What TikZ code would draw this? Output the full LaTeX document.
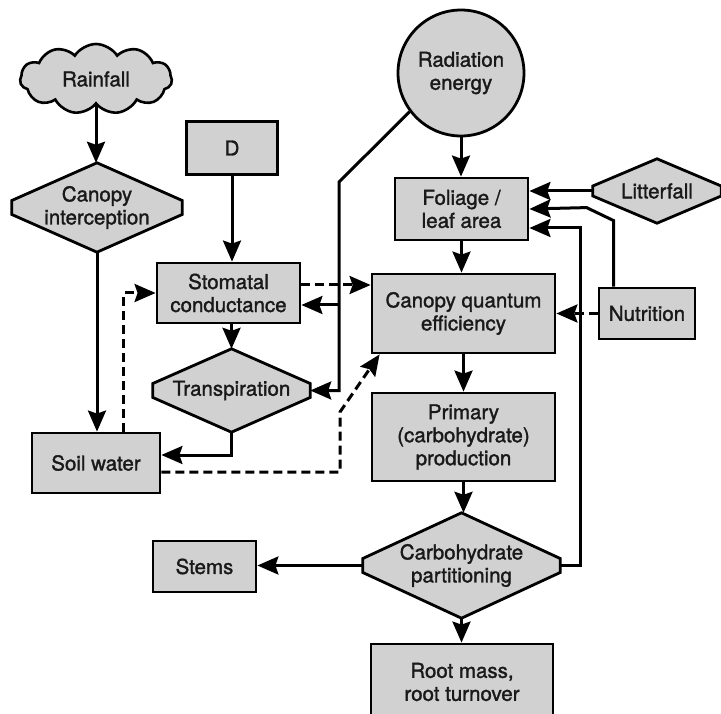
\documentclass[tikz,border=0pt]{standalone}
\usepackage{fontspec}
\setmainfont{TeX Gyre Heros}[FakeBold=1.5]
\usetikzlibrary{shapes.geometric,shapes.symbols,arrows.meta,backgrounds,calc}
\definecolor{shade}{gray}{0.82}
\begin{document}
\begin{tikzpicture}[x=1pt,y=-1pt,
  every node/.style={font=\fontsize{20.5}{23}\selectfont, align=center, text=black!90},
  box/.style={draw, line width=2.8pt, fill=shade, inner sep=0pt},
  hexd/.style={inner sep=0pt},
  hexline/.style={line width=2.8pt, fill=shade, line join=miter},
  line/.style={line width=3pt},
  arr/.style={line, -{Stealth[length=21pt,width=18pt,inset=3pt]}},
  darr/.style={arr, dash pattern=on 9pt off 5pt},
]
\useasboundingbox (0,0) rectangle (721,714);

% nodes
\node[cloud, cloud puffs=11, cloud puff arc=115, aspect=2.2, draw, line width=2.6pt,
      fill=shade, minimum width=152pt, minimum height=70pt, inner sep=0pt] (rain) at (96,79) {Rainfall};
\node[hexd, minimum width=170pt, minimum height=89pt] (ci) at (97,207.5) {Canopy\\interception};
\node[box, minimum width=91pt, minimum height=53pt] (D) at (232,148) {D};
\node[circle, draw, line width=2.8pt, fill=shade, minimum size=126pt, inner sep=0pt] (rad) at (461,73) {Radiation\\energy};
\node[box, minimum width=133pt, minimum height=62pt] (fol) at (461.5,209) {Foliage /\\leaf area};
\node[hexd, minimum width=128pt, minimum height=64pt] (lit) at (657,191) {Litterfall};
\node[box, minimum width=143pt, minimum height=60pt] (sto) at (228.5,293) {Stomatal\\conductance};
\node[box, minimum width=183pt, minimum height=79pt] (cq) at (463.5,313.5) {Canopy quantum\\efficiency};
\node[box, minimum width=96pt, minimum height=51pt] (nut) at (647,313.5) {Nutrition};
\node[hexd, minimum width=157pt, minimum height=83pt] (tra) at (231.5,390.5) {Transpiration};
\node[box, minimum width=128pt, minimum height=60pt] (soil) at (96,463) {Soil water};
\node[box, minimum width=183pt, minimum height=88pt] (prim) at (463.5,437) {Primary\\(carbohydrate)\\production};
\node[hexd, minimum width=197pt, minimum height=105pt] (cp) at (461.5,565.5) {Carbohydrate\\partitioning};
\node[box, minimum width=103pt, minimum height=51pt] (stems) at (204.5,566.5) {Stems};
\node[box, minimum width=182pt, minimum height=76pt] (root) at (462,682) {Root mass,\\root turnover};

\begin{pgfonlayer}{background}
\foreach \n/\s in {ci/7, lit/5, tra/7, cp/7} {
  \filldraw[hexline] (\n.north) -- ($(\n.east)+(0,-\s)$) -- ($(\n.east)+(0,\s)$) -- (\n.south)
     -- ($(\n.west)+(0,\s)$) -- ($(\n.west)+(0,-\s)$) -- cycle;
}
\end{pgfonlayer}

\coordinate (rj) at (339,182);
\coordinate (rk) at (339,305);
\coordinate (rl) at (339,390.5);
\coordinate (sk) at (340,412);
\coordinate (se) at ($(sto.east)+(0,-8)$);
\coordinate (nt) at ($(nut.north west)+(16,0)$);
\coordinate (ft) at ($(fol.east)+(51,19)$);
\coordinate (fe) at ($(fol.east)+(0,19)$);
\coordinate (sw) at ($(soil.east)+(0,-8)$);
\coordinate (sd) at ($(soil.east)+(0,9)$);
\coordinate (su) at ($(soil.north west)+(93,0)$);
\coordinate (cqa) at ($(cq.south west)+(9,0)$);

% connectors
\draw[arr] (rain.south) -- (rain.south |- ci.north);
\draw[arr] (ci.south) -- (ci.south |- soil.north);
\draw[arr] (D.south) -- (D.south |- sto.north);
\draw[arr] (rad.south) -- (rad.south |- fol.north);
\draw[arr] (lit.west) -- (lit.west -| fol.east);
\draw[arr] (nt) -- ++(0,-66) -- ++(-27,-13) -- (fol.east);
\draw[arr] (cp.east) -| (ft) -- (fe);
\draw[darr] (nut.west) -- (nut.west -| cq.east);
\draw[darr] (se) -- (se -| cq.west);
\draw[arr] (rad.217) -- (rj) -- (rl) -- (tra.east);
\draw[arr] (rk) -- (rk -| sto.east);
\draw[arr] (sto.south -| tra.north) -- (tra.north);
\draw[arr] (tra.south) |- (sw);
\draw[darr] (su) |- (sto.west);
\draw[darr] (sd) -| (sk) -- (cqa);
\draw[arr] (fol.south) -- (fol.south |- cq.north);
\draw[arr] (cq.south) -- (prim.north);
\draw[arr] (prim.south) -- (prim.south |- cp.north);
\draw[arr] (cp.west) -- (cp.west -| stems.east);
\draw[arr] (cp.south) -- (cp.south |- root.north);
\end{tikzpicture}
\end{document}
